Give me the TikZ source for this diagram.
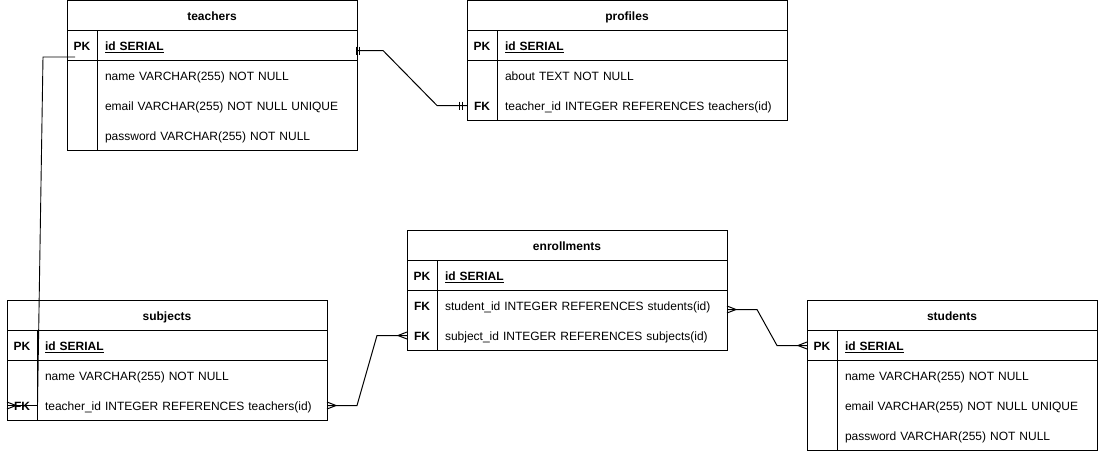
\documentclass[tikz,border=0pt]{standalone}
\usepackage{fontspec}
\setmainfont{Liberation Sans}
\usetikzlibrary{calc}
\newcommand{\ulbold}[1]{\textbf{#1}\llap{\rule[-2.2pt]{\widthof{\textbf{#1}}}{0.9pt}}}
\usepackage{calc}
\begin{document}
\begin{tikzpicture}[x=1pt,y=-1pt,line width=1pt,
  every node/.style={inner sep=0pt,outer sep=0pt,font=\fontsize{12}{14}\selectfont},
  tbl/.style={draw,line width=1pt,anchor=north west},
  ttl/.style={font=\bfseries\fontsize{12}{14}\selectfont,text height=10pt,text depth=0pt},
  keyc/.style={font=\bfseries\fontsize{12}{14}\selectfont,minimum width=30pt,minimum height=30pt,text height=10pt,text depth=0pt},
  fld/.style={anchor=west,align=left,text width=#1,minimum height=30pt,text height=10pt,text depth=0pt},
  rel/.style={draw,line width=1pt}]
\useasboundingbox (0,0) rectangle (1098,451);

% ---------- teachers ----------
\node[tbl,minimum width=290pt,minimum height=150pt] (teachers) at (67,0.5) {};
\draw (67,30.5) -- (357,30.5) (67,60.5) -- (357,60.5) (97,30.5) -- (97,150.5);
\node[ttl] (teachersT) at (212,15.5) {teachers};
\node[keyc] (teachersPK) at (82,45.5) {PK};
\node[fld=252pt] (teachersId) at (105,45.5) {\ulbold{id SERIAL}};
\node[fld=252pt] (teachersName) at (105,75.5) {name VARCHAR(255) NOT NULL};
\node[fld=252pt] (teachersEmail) at (105,105.5) {email VARCHAR(255) NOT NULL UNIQUE};
\node[fld=252pt] (teachersPass) at (105,135.5) {password VARCHAR(255) NOT NULL};

% ---------- profiles ----------
\node[tbl,minimum width=320pt,minimum height=120pt] (profiles) at (467,0.5) {};
\draw (467,30.5) -- (787,30.5) (467,60.5) -- (787,60.5) (497,30.5) -- (497,120.5);
\node[ttl] (profilesT) at (627,15.5) {profiles};
\node[keyc] (profilesPK) at (482,45.5) {PK};
\node[fld=282pt] (profilesId) at (505,45.5) {\ulbold{id SERIAL}};
\node[fld=282pt] (profilesAbout) at (505,75.5) {about TEXT NOT NULL};
\node[keyc] (profilesFK) at (482,105.5) {FK};
\node[fld=282pt] (profilesTid) at (505,105.5) {teacher\_id INTEGER REFERENCES teachers(id)};

% ---------- enrollments ----------
\node[tbl,minimum width=320pt,minimum height=120pt] (enrollments) at (407,230.5) {};
\draw (407,260.5) -- (727,260.5) (407,290.5) -- (727,290.5) (437,260.5) -- (437,350.5);
\node[ttl] (enrollmentsT) at (567,245.5) {enrollments};
\node[keyc] (enrPK) at (422,275.5) {PK};
\node[fld=282pt] (enrId) at (445,275.5) {\ulbold{id SERIAL}};
\node[keyc] (enrStudK) at (422,305.5) {FK};
\node[fld=282pt] (enrStudF) at (445,305.5) {student\_id INTEGER REFERENCES students(id)};
\node[keyc] (enrSubjK) at (422,335.5) {FK};
\node[fld=282pt] (enrSubjF) at (445,335.5) {subject\_id INTEGER REFERENCES subjects(id)};

% ---------- subjects ----------
\node[tbl,minimum width=320pt,minimum height=120pt] (subjects) at (7,300.5) {};
\draw (7,330.5) -- (327,330.5) (7,360.5) -- (327,360.5) (37,330.5) -- (37,420.5);
\node[ttl] (subjectsT) at (167,315.5) {subjects};
\node[keyc] (subjPK) at (22,345.5) {PK};
\node[fld=282pt] (subjId) at (45,345.5) {\ulbold{id SERIAL}};
\node[fld=282pt] (subjName) at (45,375.5) {name VARCHAR(255) NOT NULL};
\node[keyc] (subjFK) at (22,405.5) {FK};
\node[fld=282pt] (subjTid) at (45,405.5) {teacher\_id INTEGER REFERENCES teachers(id)};

% ---------- students ----------
\node[tbl,minimum width=290pt,minimum height=150pt] (students) at (807,300.5) {};
\draw (807,330.5) -- (1097,330.5) (807,360.5) -- (1097,360.5) (837,330.5) -- (837,450.5);
\node[ttl] (studentsT) at (952,315.5) {students};
\node[keyc] (studPK) at (822,345.5) {PK};
\node[fld=252pt] (studId) at (845,345.5) {\ulbold{id SERIAL}};
\node[fld=252pt] (studName) at (845,375.5) {name VARCHAR(255) NOT NULL};
\node[fld=252pt] (studEmail) at (845,405.5) {email VARCHAR(255) NOT NULL UNIQUE};
\node[fld=252pt] (studPass) at (845,435.5) {password VARCHAR(255) NOT NULL};

% ---------- teachers -- profiles (one to one) ----------
\coordinate (tpA) at ([yshift=-5pt]teachersId.east);
\draw[rel] (tpA) -- ++(26,0) -- ([xshift=-30pt]profilesFK.west) -- (profilesFK.west);
\draw[rel] ([xshift=-1pt,yshift=4pt]tpA) -- ++(0,8);
\draw[rel] ([xshift=2.5pt,yshift=4pt]tpA) -- ++(0,8);
\draw[rel] ([xshift=-8pt,yshift=4pt]profilesFK.west) -- ++(0,8);
\draw[rel] ([xshift=-4.5pt,yshift=4pt]profilesFK.west) -- ++(0,8);

% ---------- teachers -- subjects ----------
\coordinate (tsA) at (75,57);
\draw[rel,line width=0.9pt] (tsA) -- (43,57) -- (37.5,405.5) -- (subjFK.west);
\draw[rel] ([yshift=3.5pt]subjFK.west) -- ++(9,3.5) -- ++(-9,3.5);

% ---------- subjects -- enrollments ----------
\draw[rel] (subjTid.east) -- ++(30,0) -- ([xshift=-30pt]enrSubjK.west) -- (enrSubjK.west);
\draw[rel] ([yshift=3.5pt]subjTid.east) -- ++(9,3.5) -- ++(-9,3.5);
\draw[rel] ([yshift=3.5pt]enrSubjK.west) -- ++(-9,3.5) -- ++(9,3.5);

% ---------- enrollments -- students ----------
\coordinate (esA) at ([yshift=-4pt]enrStudF.east);
\draw[rel] (esA) -- ++(30,0) -- ([xshift=-30pt]studPK.west) -- (studPK.west);
\draw[rel] ([yshift=3.5pt]esA) -- ++(9,3.5) -- ++(-9,3.5);
\draw[rel] ([yshift=3.5pt]studPK.west) -- ++(-9,3.5) -- ++(9,3.5);
\end{tikzpicture}
\end{document}
